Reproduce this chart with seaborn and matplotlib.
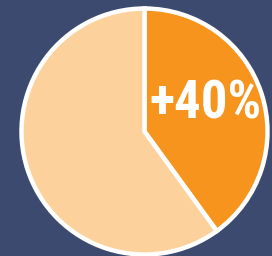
import matplotlib
matplotlib.use("Agg")
import matplotlib.pyplot as plt
import seaborn as sns

labels = ["increase", "rest"]
shares = [40, 60]
colors = ["#F7941D", "#FDD19C"]
callout = "+40%"

sns.set_theme(style="white")
bg = "#3B4A6E"

fig = plt.figure(figsize=(2.72, 2.56), dpi=100, facecolor=bg)
ax = fig.add_axes([0, 0, 1, 1])
ax.set_facecolor(bg)

ax.pie(shares, colors=colors, startangle=90, counterclock=False,
       wedgeprops=dict(edgecolor="white", linewidth=3.2))

# pie centre at (144.5, 131.5) px, radius 123 px
r = 123
ax.set_xlim(-144.5 / r, (272 - 144.5) / r)
ax.set_ylim(-(256 - 131.5) / r, 131.5 / r)
ax.set_aspect("auto")
ax.axis("off")

ax.text(0.495, 0.225, callout, color="white", fontsize=38, fontweight="bold",
        family=["Roboto Condensed", "Roboto", "DejaVu Sans"], ha="center", va="center")

fig.savefig("out.png", dpi=100, facecolor=bg)
